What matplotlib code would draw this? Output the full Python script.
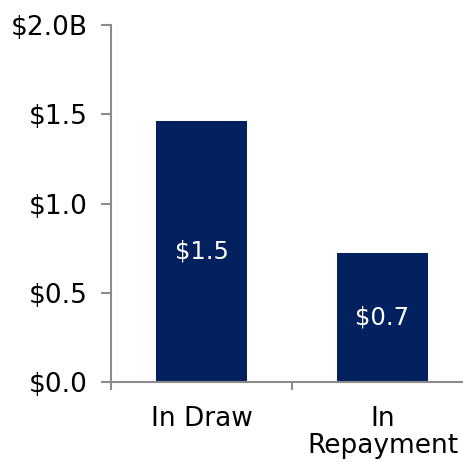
import matplotlib
matplotlib.use("Agg")
import matplotlib.pyplot as plt
from matplotlib.ticker import FixedLocator

categories = ["In Draw", "In\nRepayment"]
values = [1.464, 0.724]
bar_labels = ["$1.5", "$0.7"]
y_ticks = [0.0, 0.5, 1.0, 1.5, 2.0]
y_tick_labels = ["$0.0", "$0.5", "$1.0", "$1.5", "$2.0B"]

W, H = 464, 462
fig = plt.figure(figsize=(W / 100, H / 100), dpi=100)
ax = fig.add_axes([111 / W, 80 / H, 362 / W, 357 / H])

bar_color = "#02215E"
axis_color = "#8C8C8C"
x = list(range(len(categories)))
bars = ax.bar(x, values, width=0.5, color=bar_color, zorder=2)

for rect, lab in zip(bars, bar_labels):
    ax.text(rect.get_x() + rect.get_width() / 2, rect.get_height() / 2, lab,
            ha="center", va="center", color="white", fontsize=17.5)

ax.set_xlim(-0.5, 1.5)
ax.set_ylim(0, 2.0)
ax.set_yticks(y_ticks)
ax.set_yticklabels(y_tick_labels, fontsize=19)
ax.set_xticks(x)
ax.set_xticklabels(categories, fontsize=19, linespacing=1.05)
ax.xaxis.set_minor_locator(FixedLocator([-0.5, 0.5, 1.5]))

for side in ("top", "right"):
    ax.spines[side].set_visible(False)
for side in ("left", "bottom"):
    ax.spines[side].set_color(axis_color)
    ax.spines[side].set_linewidth(1.5)

ax.tick_params(axis="y", direction="out", length=7, width=1.5, color=axis_color, pad=10)
ax.tick_params(axis="x", which="major", length=0, pad=17)
ax.tick_params(axis="x", which="minor", direction="out", length=6, width=1.5, color=axis_color)

fig.savefig("out.png", dpi=100)
